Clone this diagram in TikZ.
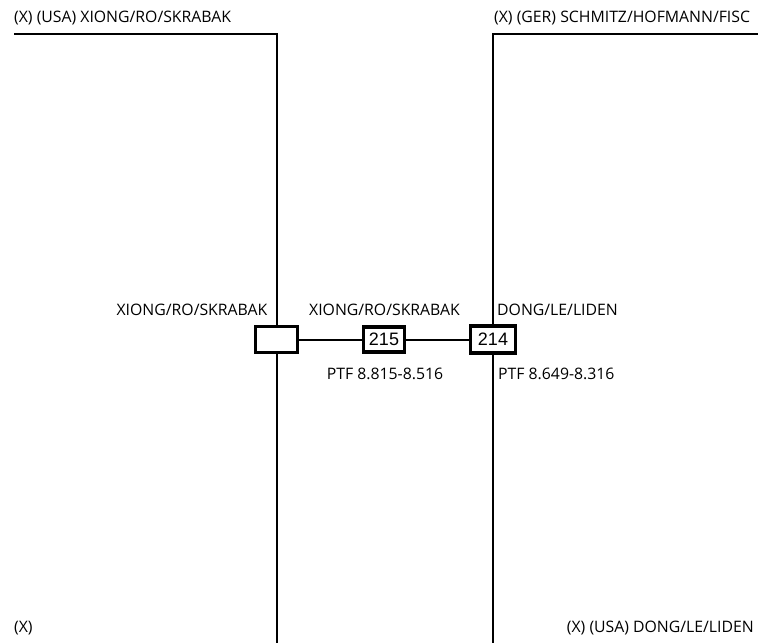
\documentclass[tikz,border=0pt]{standalone}
\usepackage{fontspec}
\setmainfont{Open Sans}
\newfontfamily\numfont{Liberation Sans}
\begin{document}
\begin{tikzpicture}[x=1pt,y=-1pt,
  wire/.style={line width=2pt,black},
  sbox/.style={draw,line width=3.6pt,inner sep=0pt,fill=white,font=\numfont\fontsize{18}{20}\selectfont},
  lbl/.style={inner sep=0pt,font=\fontsize{15.8}{18}\selectfont}]
\useasboundingbox (0,0) rectangle (758,643);
\node[sbox,minimum width=42pt,minimum height=26pt] (b0) at (276.5,339.5) {};
\node[sbox,minimum width=41pt,minimum height=25pt] (b215) at (384,339.5) {215};
\node[sbox,minimum width=45pt,minimum height=27pt] (b214) at (493,339.5) {214};
\coordinate (tl) at (14,34);
\coordinate (tlc) at (277,34);
\coordinate (bl) at (277,643);
\coordinate (tr) at (758,34);
\coordinate (trc) at (493,34);
\coordinate (br) at (493,643);
\draw[wire] (tl) -- (tlc) -- (b0.north -| tlc);
\draw[wire] (b0.south -| bl) -- (bl);
\draw[wire] (tr) -- (trc) -- (b214.north -| trc);
\draw[wire] (b214.south -| br) -- (br);
\draw[wire] (b0.east) -- (b215.west);
\draw[wire] (b215.east) -- (b214.west);
\node[lbl,anchor=base west] (t1) at (14,22.5) {(X) (USA) XIONG/RO/SKRABAK};
\node[lbl,anchor=base west] (t2) at (494,22.5) {(X) (GER) SCHMITZ/HOFMANN/FISC};
\node[lbl,anchor=base east] (t3) at (267.5,315) {XIONG/RO/SKRABAK};
\node[lbl,anchor=base] (t4) at (384.5,315) {XIONG/RO/SKRABAK};
\node[lbl,anchor=base west] (t5) at (497,315) {DONG/LE/LIDEN};
\node[lbl,anchor=base] (t6) at (385,379) {PTF 8.815-8.516};
\node[lbl,anchor=base west] (t7) at (498,379) {PTF 8.649-8.316};
\node[lbl,anchor=base west] (t8) at (14,632) {(X)};
\node[lbl,anchor=base east] (t9) at (754,632) {(X) (USA) DONG/LE/LIDEN};
\end{tikzpicture}
\end{document}
